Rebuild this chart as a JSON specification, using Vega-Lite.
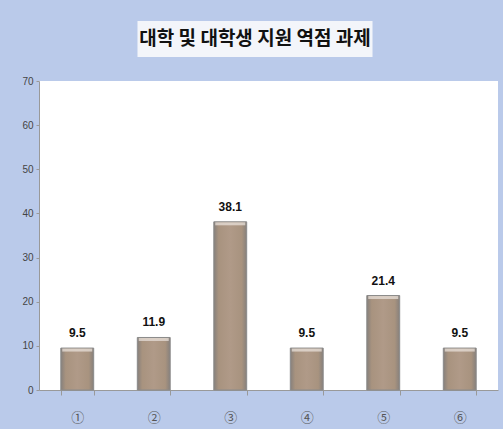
{
  "$schema": "https://vega.github.io/schema/vega-lite/v6.json",
  "background": "#bacaea",
  "padding": {"left": 21, "top": 21, "right": 5, "bottom": 5},
  "center": true,
  "spacing": 19,
  "config": {
    "view": {"stroke": null},
    "axis": {"grid": false, "title": null}
  },
  "datasets": {
    "bars": [
      {"cat": "①", "value": 9.5},
      {"cat": "②", "value": 11.9},
      {"cat": "③", "value": 38.1},
      {"cat": "④", "value": 9.5},
      {"cat": "⑤", "value": 21.4},
      {"cat": "⑥", "value": 9.5}
    ],
    "title": [{"t": "대학 및 대학생 지원 역점 과제"}],
    "blank": [{"t": ""}]
  },
  "vconcat": [
    {
      "spacing": 0,
      "hconcat": [
        {
          "width": 235,
          "height": 36,
          "view": {"fill": "#f3f5fa", "stroke": null},
          "data": {"name": "title"},
          "mark": {"type": "text", "font": "Noto Sans CJK KR", "fontWeight": "bold", "fontSize": 19, "color": "#111", "align": "center", "baseline": "middle"},
          "encoding": {"text": {"field": "t"}}
        },
        {
          "width": 27,
          "height": 36,
          "view": {"fill": null, "stroke": null},
          "data": {"name": "blank"},
          "mark": {"type": "text"},
          "encoding": {"text": {"field": "t"}}
        }
      ]
    },
    {
      "width": 459,
      "height": 309,
      "view": {"fill": "white", "stroke": null},
      "data": {"name": "bars"},
      "encoding": {
        "x": {
          "field": "cat", "type": "nominal", "sort": null,
          "scale": {"paddingInner": 0.57, "paddingOuter": 0.285},
          "axis": {"labelAngle": 0, "tickBand": "extent", "tickSize": 5, "labelPadding": 16, "labelFontSize": 13, "labelFont": "Noto Sans CJK KR", "labelColor": "#555", "domainColor": "#999", "tickColor": "#999"}
        },
        "y": {
          "field": "value", "type": "quantitative",
          "scale": {"domain": [0, 70], "nice": false},
          "axis": {"values": [0, 10, 20, 30, 40, 50, 60, 70], "tickSize": 3, "labelFontSize": 10, "labelFont": "Liberation Sans", "labelColor": "#444", "labelPadding": 3, "domainColor": "#999", "tickColor": "#999"}
        }
      },
      "layer": [
        {
          "mark": {
            "type": "bar",
            "stroke": "#8a8a8a",
            "strokeWidth": 1,
            "fill": {
              "gradient": "linear", "x1": 0, "x2": 1, "y1": 0, "y2": 0,
              "stops": [
                {"offset": 0, "color": "#86807c"},
                {"offset": 0.15, "color": "#a8937f"},
                {"offset": 0.5, "color": "#b09a88"},
                {"offset": 0.85, "color": "#a8937f"},
                {"offset": 1, "color": "#86807c"}
              ]
            }
          }
        },
        {
          "mark": {"type": "tick", "color": "#ece6df", "thickness": 3, "size": 30, "yOffset": 2},
          "encoding": {}
        },
        {
          "mark": {"type": "text", "baseline": "bottom", "dy": -8, "fontWeight": "bold", "fontSize": 12, "font": "Liberation Sans", "color": "#111"},
          "encoding": {"text": {"field": "value", "type": "quantitative", "format": ".1f"}}
        }
      ]
    }
  ]
}
